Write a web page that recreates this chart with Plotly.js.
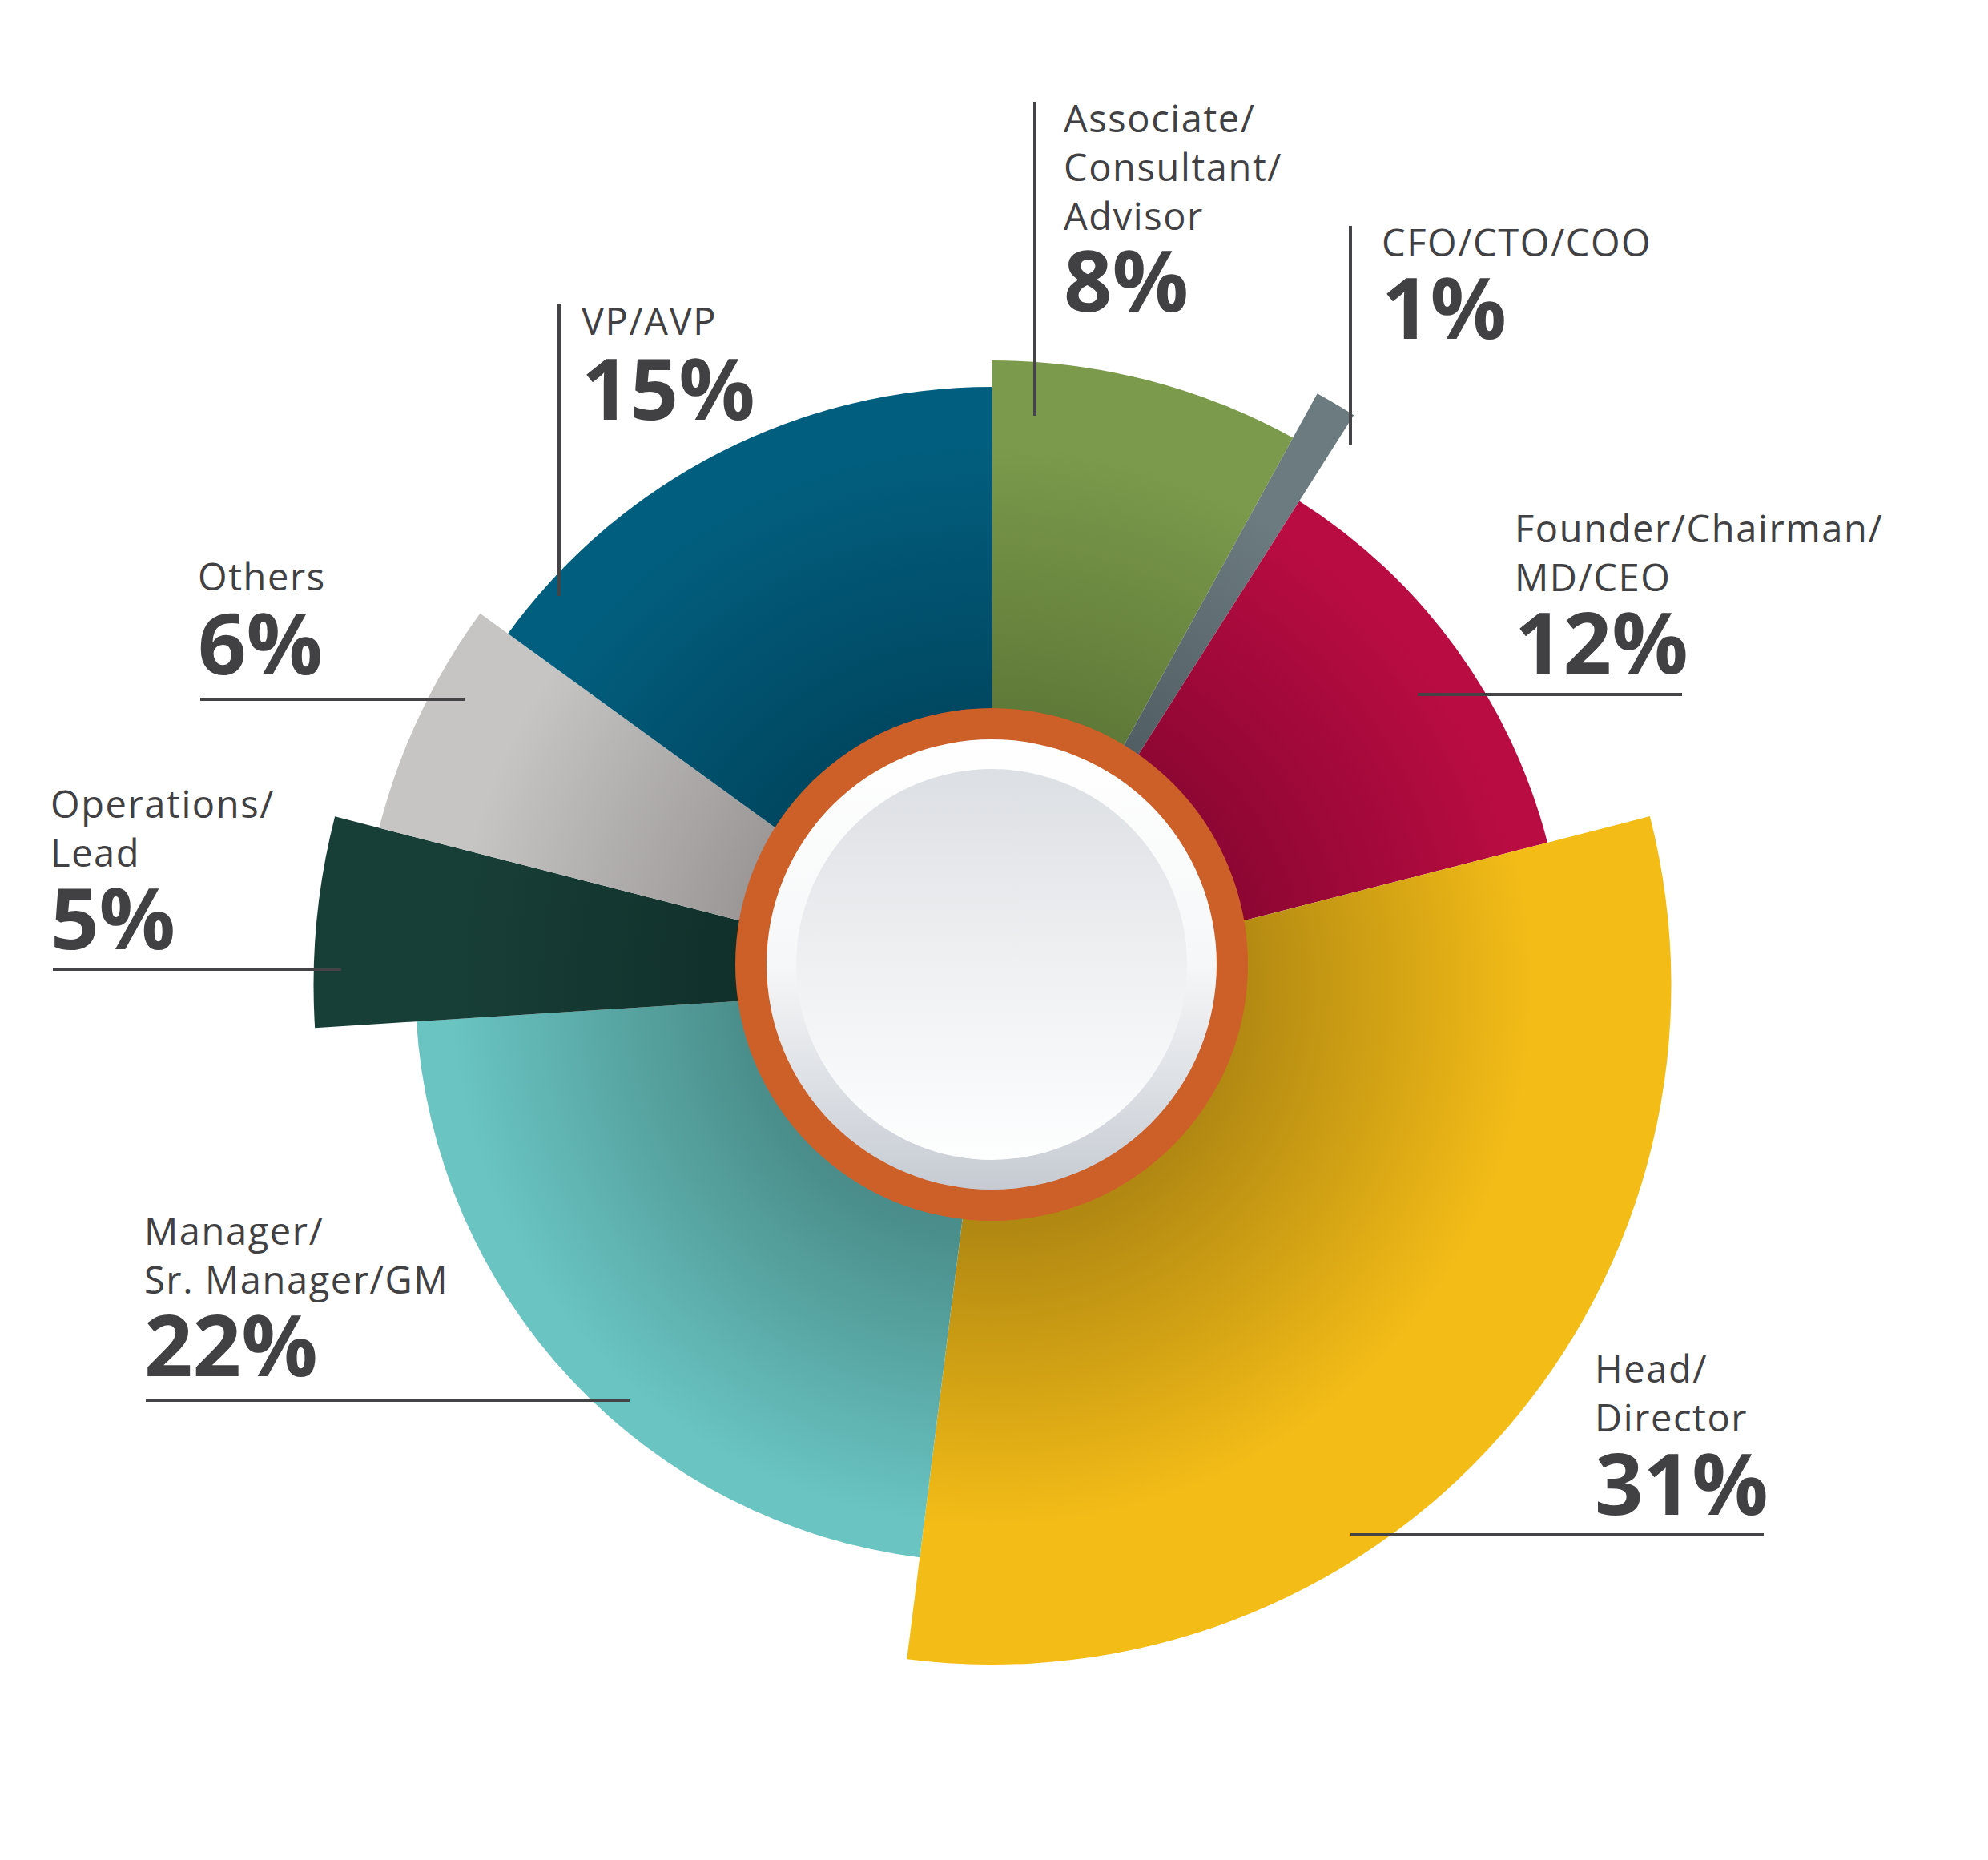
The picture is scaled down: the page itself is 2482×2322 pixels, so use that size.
<!DOCTYPE html>
<html>
<head>
<meta charset="utf-8">
<script src="https://cdn.plot.ly/plotly-3.0.1.min.js"></script>
<style>
html,body{margin:0;padding:0;background:#ffffff;}
#chart{width:2482px;height:2322px;}
</style>
</head>
<body>
<div id="chart"></div>
<script>
// ---------------- DATA ----------------
const categories = [
  "Associate/<br>Consultant/<br>Advisor",
  "CFO/CTO/COO",
  "Founder/Chairman/<br>MD/CEO",
  "Head/<br>Director",
  "Manager/<br>Sr. Manager/GM",
  "Operations/<br>Lead",
  "Others",
  "VP/AVP"
];
const shares = [8, 1, 12, 31, 22, 5, 6, 15];                 // percent of respondents
const barLength = [780, 843, 716, 848, 720, 847, 790, 747];  // radial length of each slice

// ---------------- STYLE ----------------
const outerColors = ["#7b9a4b", "#6c7b7f", "#b90c42", "#f3bc17", "#69c4c2", "#183f37", "#c6c5c3", "#025e7e"];
const innerColors = ["#5c7636", "#4e5c62", "#8a0632", "#b18812", "#4a8d8a", "#10302a", "#999595", "#00455e"];
const textColor = "#414042";
const lineColor = "#444446";

// ---------------- GEOMETRY (page pixels) ----------------
const W = 2482, H = 2322;
const SCX = 1238.5, SCY = 1230, SRMAX = 900;   // slices
const RCX = 1238, RCY = 1204, RRMAX = 330;     // centre badge
const px = x => x / W;
const py = y => 1 - y / H;

// label placement: name block centre, percentage centre, left edge, leader line
const labelPos = [
  {x:1326, ny:208,  pyc:348,  line:[1292,127,1292,519]},
  {x:1723, ny:302,  pyc:382,  line:[1686,282,1686,555]},
  {x:1889, ny:690,  pyc:800,  line:[1770,867,2100,867]},
  {x:1989, ny:1739, pyc:1850, line:[1686,1916,2202,1916]},
  {x:178,  ny:1566, pyc:1677, line:[182,1748,786,1748]},
  {x:61,   ny:1033, pyc:1144, line:[66,1210,426,1210]},
  {x:245,  ny:719,  pyc:801,  line:[250,873,580,873]},
  {x:724,  ny:400,  pyc:483,  line:[698,380,698,744]}
];

// ---------------- TRACES ----------------
const theta = [], widths = [];
let acc = 0;
shares.forEach(s => {
  theta.push((acc + s / 2) * 3.6);
  widths.push(s * 3.6);
  acc += s;
});

const slices = {
  type: "barpolar",
  subplot: "polar",
  theta: theta,
  width: widths,
  r: barLength,
  text: categories,
  marker: {color: outerColors, line: {width: 0}},
  hoverinfo: "skip"
};
const disc = (rad, col) => ({
  type: "barpolar", subplot: "polar2", theta: [0], width: [360], r: [rad],
  marker: {color: col, line: {width: 0}}, hoverinfo: "skip"
});
const data = [
  slices,
  disc(320, "#cd5f29"),   // orange ring
  disc(281, "#eceef1"),   // white rim
  disc(244, "#eef0f2")    // inner disc
];

// ---------------- ANNOTATIONS / SHAPES ----------------
const annotations = [];
const shapes = [];
categories.forEach((c, i) => {
  const p = labelPos[i];
  annotations.push({
    xref: "paper", yref: "paper", x: px(p.x), y: py(p.ny),
    xanchor: "left", yanchor: "middle", align: "left", showarrow: false,
    text: c, font: {family: "Open Sans", size: 47, color: textColor}
  });
  annotations.push({
    xref: "paper", yref: "paper", x: px(p.x - 0), y: py(p.pyc),
    xanchor: "left", yanchor: "middle", align: "left", valign: "middle", showarrow: false,
    height: 88,
    text: "<b>" + shares[i] + "%</b>", font: {family: "Open Sans", size: 106, color: textColor, weight: 700}
  });
  shapes.push({
    type: "line", xref: "paper", yref: "paper", layer: "above",
    x0: px(p.line[0]), y0: py(p.line[1]), x1: px(p.line[2]), y1: py(p.line[3]),
    line: {color: lineColor, width: 4}
  });
});

const hiddenAxes = {
  bgcolor: "rgba(0,0,0,0)",
  barmode: "overlay",
  bargap: 0,
  angularaxis: {visible: false, direction: "clockwise", rotation: 90, showgrid: false, showline: false, ticks: ""}
};

const layout = {
  width: W, height: H, autosize: false,
  margin: {l: 0, r: 0, t: 0, b: 0},
  paper_bgcolor: "#ffffff",
  showlegend: false,
  hovermode: false,
  polar: Object.assign({}, hiddenAxes, {
    domain: {x: [(SCX - SRMAX) / W, (SCX + SRMAX) / W], y: [1 - (SCY + SRMAX) / H, 1 - (SCY - SRMAX) / H]},
    radialaxis: {visible: false, range: [0, SRMAX], showgrid: false, showline: false, ticks: ""}
  }),
  polar2: Object.assign({}, hiddenAxes, {
    domain: {x: [(RCX - RRMAX) / W, (RCX + RRMAX) / W], y: [1 - (RCY + RRMAX) / H, 1 - (RCY - RRMAX) / H]},
    radialaxis: {visible: false, range: [0, RRMAX], showgrid: false, showline: false, ticks: ""}
  }),
  annotations: annotations,
  shapes: shapes
};

const gd = document.getElementById("chart");
Plotly.newPlot(gd, data, layout, {displayModeBar: false, staticPlot: true}).then(finish);

function finish() {
  const NS = "http://www.w3.org/2000/svg";
  const svg = gd.querySelector("svg.main-svg");
  const defs = document.createElementNS(NS, "defs");
  svg.insertBefore(defs, svg.firstChild);

  // slightly wider tracking for the category names
  gd.querySelectorAll("text.annotation-text").forEach(t => {
    if (parseFloat(t.style.fontSize) < 60) t.style.letterSpacing = "1.6px";
  });

  const traces = gd.querySelectorAll("g.barlayer g.trace");
  if (traces.length < 4) return;

  function stop(g, off, col) {
    const s = document.createElementNS(NS, "stop");
    s.setAttribute("offset", off);
    s.setAttribute("stop-color", col);
    g.appendChild(s);
  }
  traces[0].querySelectorAll("path").forEach((p, i) => {
    const inv = p.getScreenCTM().inverse();
    const pt = svg.createSVGPoint();
    pt.x = SCX; pt.y = SCY;
    const c = pt.matrixTransform(inv);
    const g = document.createElementNS(NS, "radialGradient");
    g.setAttribute("id", "sliceGrad" + i);
    g.setAttribute("gradientUnits", "userSpaceOnUse");
    g.setAttribute("cx", c.x); g.setAttribute("cy", c.y);
    g.setAttribute("fx", c.x); g.setAttribute("fy", c.y);
    g.setAttribute("r", SRMAX);
    stop(g, 0.34, innerColors[i]);
    stop(g, 0.75, outerColors[i]);
    stop(g, 1, outerColors[i]);
    defs.appendChild(g);
    p.style.fill = "url(#sliceGrad" + i + ")";
  });
  function linear(id, top, mid, bottom) {
    const g = document.createElementNS(NS, "linearGradient");
    g.setAttribute("id", id);
    g.setAttribute("x1", 0); g.setAttribute("y1", 0);
    g.setAttribute("x2", 0); g.setAttribute("y2", 1);
    stop(g, 0, top); stop(g, 0.5, mid); stop(g, 1, bottom);
    defs.appendChild(g);
  }
  linear("rimGrad", "#ffffff", "#f6f7f8", "#c6cbd3");
  linear("discGrad", "#dcdfe3", "#eff0f2", "#fdfefe");
  traces[2].querySelector("path").style.fill = "url(#rimGrad)";
  traces[3].querySelector("path").style.fill = "url(#discGrad)";
}
</script>
</body>
</html>
